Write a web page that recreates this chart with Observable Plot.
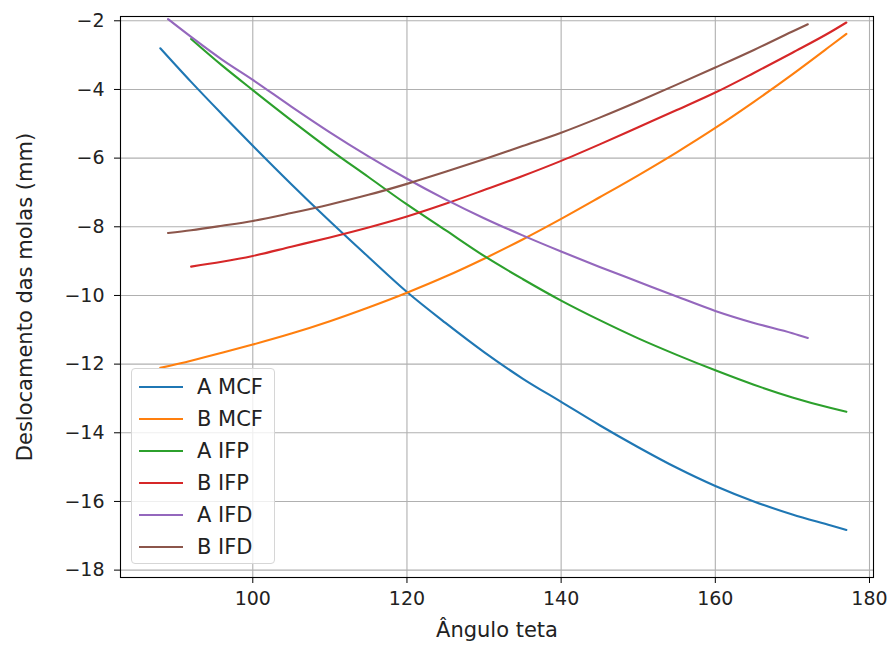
<!DOCTYPE html>
<html>
<head>
<meta charset="utf-8">
<script src="https://cdn.jsdelivr.net/npm/d3@7"></script>
<script src="https://cdn.jsdelivr.net/npm/@observablehq/plot@0.6"></script>
<style>
  html, body { margin: 0; padding: 0; background: #fff; }
  #wrap { position: relative; width: 890px; height: 650px; font-family: "DejaVu Sans", sans-serif; }
  #legend { position: absolute; left: 131px; top: 368px; width: 144px; height: 196px;
    border: 1px solid #d6d6d6; border-radius: 4px; background: rgba(255,255,255,0.8); box-sizing: border-box; }
  .entry { position: absolute; left: 7px; height: 24px; display: flex; align-items: center; }
  .swatch { width: 44px; height: 2.2px; margin-right: 14px; }
  .lab { font-size: 21px; color: #222; white-space: nowrap; line-height: 24px; }
</style>
</head>
<body>
<div id="wrap"></div>
<script>
const seriesNames = ["A MCF", "B MCF", "A IFP", "B IFP", "A IFD", "B IFD"];
const seriesColors = ["#1f77b4", "#ff7f0e", "#2ca02c", "#d62728", "#9467bd", "#8c564b"];

const anglesMCF = [88, 92, 96, 100, 105, 110, 115, 120, 125, 130, 135, 140, 145, 150, 155, 160, 165, 170, 175, 177];
const aMCF = [-2.80, -3.78, -4.72, -5.64, -6.76, -7.84, -8.88, -9.90, -10.80, -11.65, -12.42, -13.10, -13.78, -14.42, -15.02, -15.55, -16.00, -16.38, -16.70, -16.83];
const bMCF = [-12.11, -11.90, -11.67, -11.43, -11.11, -10.75, -10.35, -9.92, -9.45, -8.93, -8.37, -7.77, -7.14, -6.50, -5.83, -5.12, -4.36, -3.56, -2.72, -2.38];

const anglesIFP = [92, 96, 100, 105, 110, 115, 120, 125, 130, 135, 140, 145, 150, 155, 160, 165, 170, 175, 177];
const aIFP = [-2.53, -3.30, -4.02, -4.90, -5.75, -6.55, -7.35, -8.10, -8.85, -9.52, -10.15, -10.72, -11.25, -11.73, -12.18, -12.60, -12.97, -13.28, -13.39];
const bIFP = [-9.16, -9.02, -8.85, -8.58, -8.31, -8.02, -7.70, -7.33, -6.93, -6.52, -6.08, -5.60, -5.10, -4.60, -4.09, -3.52, -2.93, -2.32, -2.05];

const anglesIFD = [89, 92, 96, 100, 105, 110, 115, 120, 125, 130, 135, 140, 145, 150, 155, 160, 165, 170, 172];
const aIFD = [-1.95, -2.47, -3.13, -3.72, -4.50, -5.25, -5.95, -6.60, -7.20, -7.75, -8.25, -8.72, -9.17, -9.60, -10.03, -10.45, -10.80, -11.10, -11.24];
const bIFD = [-8.18, -8.10, -7.97, -7.83, -7.60, -7.35, -7.07, -6.75, -6.40, -6.03, -5.65, -5.26, -4.82, -4.35, -3.86, -3.36, -2.85, -2.31, -2.10];

const xTicks = [100, 120, 140, 160, 180];
const yTicks = [-18, -16, -14, -12, -10, -8, -6, -4, -2];
const xLabel = "Ângulo teta";
const yLabel = "Deslocamento das molas (mm)";

const seriesX = [anglesMCF, anglesMCF, anglesIFP, anglesIFP, anglesIFD, anglesIFD];
const seriesY = [aMCF, bMCF, aIFP, bIFP, aIFD, bIFD];

const rows = [];
seriesNames.forEach((name, i) => {
  seriesX[i].forEach((x, j) => rows.push({series: name, x, y: seriesY[i][j]}));
});

const fmt = d3.format("d");
const FS = 19;
const LFS = 21;

const chart = Plot.plot({
  width: 890,
  height: 650,
  marginLeft: 120,
  marginRight: 17,
  marginTop: 16,
  marginBottom: 73,
  style: {fontFamily: "DejaVu Sans, sans-serif", fontSize: FS + "px", color: "#222", background: "white"},
  x: {domain: [82.84, 180.52], ticks: xTicks},
  y: {domain: [-18.215, -1.875], ticks: yTicks},
  color: {domain: seriesNames, range: seriesColors},
  marks: [
    Plot.gridX(xTicks, {stroke: "#b0b0b0", strokeOpacity: 1, strokeWidth: 1.1}),
    Plot.gridY(yTicks, {stroke: "#b0b0b0", strokeOpacity: 1, strokeWidth: 1.1}),
    Plot.line(rows, {x: "x", y: "y", z: "series", stroke: "series", strokeWidth: 2.1, curve: "monotone-x"}),
    Plot.frame({stroke: "#000", strokeWidth: 1.1}),
    Plot.axisX(xTicks, {tickSize: 6, tickPadding: 8, tickFormat: fmt, fontSize: FS, label: null, stroke: "#000"}),
    Plot.axisY(yTicks, {tickSize: 6, tickPadding: 10, tickFormat: fmt, fontSize: FS, label: null, stroke: "#000"}),
    Plot.text([xLabel], {text: d => d, frameAnchor: "bottom", textAnchor: "middle", dy: 59, fontSize: LFS, fill: "#222"}),
    Plot.text([yLabel], {text: d => d, frameAnchor: "left", textAnchor: "middle", dx: -95, rotate: -90, fontSize: LFS, fill: "#222"})
  ]
});

const wrap = document.getElementById("wrap");
wrap.appendChild(chart);

const legend = document.createElement("div");
legend.id = "legend";
seriesNames.forEach((name, i) => {
  const e = document.createElement("div");
  e.className = "entry";
  e.style.top = (6 + i * 32) + "px";
  const s = document.createElement("div");
  s.className = "swatch";
  s.style.background = seriesColors[i];
  const t = document.createElement("span");
  t.className = "lab";
  t.textContent = name;
  e.appendChild(s); e.appendChild(t);
  legend.appendChild(e);
});
wrap.appendChild(legend);
</script>
</body>
</html>
